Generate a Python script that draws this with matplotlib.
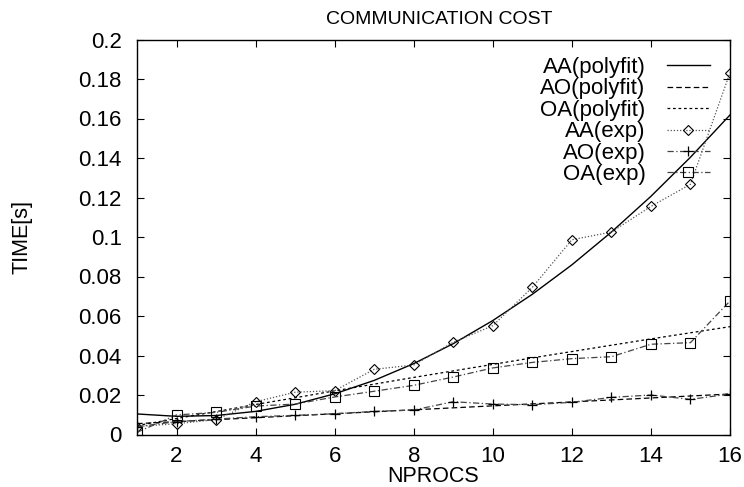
import numpy as np
import matplotlib
matplotlib.use("Agg")
import matplotlib.pyplot as plt

plt.rcParams['font.family'] = ['Liberation Sans', 'DejaVu Sans']

nprocs = [1, 2, 3, 4, 5, 6, 7, 8, 9, 10, 11, 12, 13, 14, 15, 16]
aa_exp = [0.004, 0.0055, 0.0075, 0.0166, 0.0214, 0.0222, 0.0330, 0.0352, 0.0467,
          0.0551, 0.0745, 0.0986, 0.1025, 0.1155, 0.1267, 0.1832]
ao_exp = [0.004, 0.0065, 0.0078, 0.0090, 0.0097, 0.0105, 0.0117, 0.0124, 0.0166,
          0.0154, 0.0151, 0.0163, 0.0188, 0.0200, 0.0178, 0.0205]
oa_exp = [0.0011, 0.0099, 0.0112, 0.0144, 0.0154, 0.0190, 0.0219, 0.0249, 0.0291,
          0.0337, 0.0365, 0.0384, 0.0394, 0.0457, 0.0465, 0.0676]
# polynomial-fit curves at each NPROCS value
aa_fit = [0.0104, 0.0092, 0.0096, 0.0117, 0.0153, 0.0206, 0.0274, 0.0359, 0.0460,
          0.0577, 0.0710, 0.0859, 0.1025, 0.1206, 0.1404, 0.1618]
ao_fit = [0.0055, 0.0065, 0.0075, 0.0085, 0.0095, 0.0105, 0.0115, 0.0125, 0.0135,
          0.0145, 0.0155, 0.0165, 0.0175, 0.0185, 0.0195, 0.0205]
oa_fit = [0.0045, 0.0081, 0.0116, 0.0152, 0.0186, 0.0221, 0.0255, 0.0289, 0.0322,
          0.0355, 0.0388, 0.0420, 0.0452, 0.0484, 0.0515, 0.0546]

x_ticks = [2, 4, 6, 8, 10, 12, 14, 16]
y_ticks = [0, 0.02, 0.04, 0.06, 0.08, 0.1, 0.12, 0.14, 0.16, 0.18, 0.2]
y_tick_labels = ["0", "0.02", "0.04", "0.06", "0.08", "0.1", "0.12", "0.14", "0.16", "0.18", "0.2"]

W, H = 744, 487
fig = plt.figure(figsize=(W / 100, H / 100), dpi=100)
L, R, T, B = 137, 730, 39.5, 434.5
ax = fig.add_axes([L / W, (H - B) / H, (R - L) / W, (B - T) / H])

FS_TICK = 16
FS_LEG = 16
FS_LAB = 15.5

ax.plot(nprocs, aa_fit, color='black', lw=1.0, ls='-', label='AA(polyfit)')
ax.plot(nprocs, ao_fit, color='black', lw=0.9, ls=(0, (4.5, 2.5)), label='AO(polyfit)')
ax.plot(nprocs, oa_fit, color='black', lw=0.9, ls=(0, (2.2, 2.2)), label='OA(polyfit)')
ax.plot(nprocs, aa_exp, color='#555555', lw=0.9, ls=(0, (1, 1.5)), marker='D', ms=5,
        mfc='none', mec='black', mew=0.8, label='AA(exp)')
ax.plot(nprocs, ao_exp, color='#444444', lw=0.9, ls=(0, (5, 2, 1, 2)), marker='+', ms=7,
        mec='black', mew=0.9, label='AO(exp)')
ax.plot(nprocs, oa_exp, color='#444444', lw=0.9, ls=(0, (5, 2, 1, 2)), marker='s', ms=6.5,
        mfc='none', mec='black', mew=0.8, label='OA(exp)')

ax.set_xlim(1, 16)
ax.set_ylim(0, 0.2)
ax.set_xticks(x_ticks)
ax.set_yticks(y_ticks)
ax.set_yticklabels(y_tick_labels)
ax.tick_params(direction='in', length=5, width=0.8, top=True, right=True,
               labelsize=FS_TICK, colors='black')
ax.tick_params(axis='x', pad=8)
ax.tick_params(axis='y', pad=11)
for s in ax.spines.values():
    s.set_linewidth(1.0)

fig.text(439 / W, 1 - 20 / H, 'COMMUNICATION COST', ha='center', va='center', fontsize=14)
fig.text(433 / W, 1 - 477 / H, 'NPROCS', ha='center', va='center', fontsize=FS_LAB)
fig.text(22 / W, 1 - 237 / H, 'TIME[s]', ha='center', va='center', rotation=90, fontsize=FS_LAB)

leg = ax.legend(loc='upper right', bbox_to_anchor=((710 - L) / (R - L), (B - 57) / (B - T)),
                frameon=False, markerfirst=False, fontsize=FS_LEG,
                handlelength=1.95, handletextpad=0.95, labelspacing=0.02,
                borderaxespad=0.0, borderpad=0.0)

fig.savefig('out.png', dpi=100)
